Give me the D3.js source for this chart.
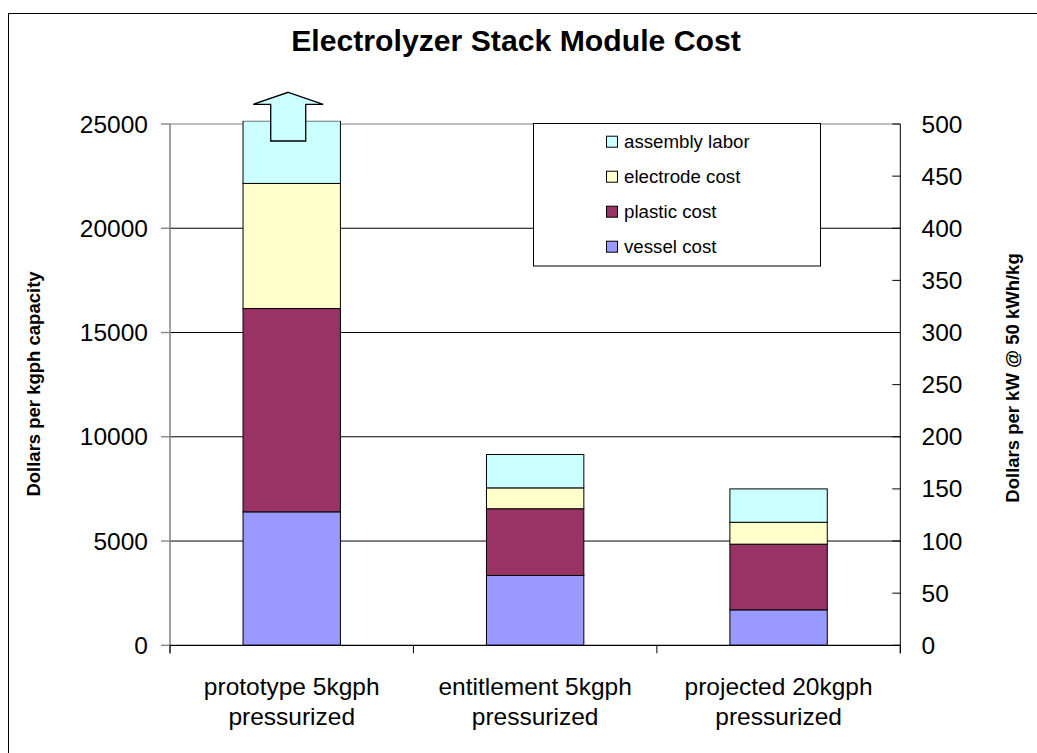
<!DOCTYPE html>
<html>
<head>
<meta charset="utf-8">
<script src="https://cdn.jsdelivr.net/npm/d3@7"></script>
<style>
html,body{margin:0;padding:0;background:#fff;}
svg{display:block;font-family:Arial,"Liberation Sans",sans-serif;}
</style>
</head>
<body>
<svg id="chart" width="1037" height="753"></svg>
<script>
const categories = [["prototype 5kgph","pressurized"],["entitlement 5kgph","pressurized"],["projected 20kgph","pressurized"]];
const seriesNames = ["vessel cost","plastic cost","electrode cost","assembly labor"];
const vesselCost = [6400, 3350, 1700];
const plasticCost = [9750, 3200, 3150];
const electrodeCost = [6000, 1000, 1050];
const assemblyLabor = [3000, 1600, 1600];
const leftTicks = [0,5000,10000,15000,20000,25000];
const rightTicks = [0,50,100,150,200,250,300,350,400,450,500];
const colors = ["#9999FF","#993366","#FFFFCC","#CCFFFF"];

const svg = d3.select("#chart");
const L = 170, R = 900.3, T = 124, B = 645.3;

const x = d3.scaleBand().domain(d3.range(categories.length)).range([L,R]).paddingInner(0.6).paddingOuter(0.3);
const y = d3.scaleLinear().domain([0,25000]).range([B,T]);
const y2 = d3.scaleLinear().domain([0,500]).range([B,T]);

// outer border
svg.append("rect").attr("x",8.5).attr("y",13.5).attr("width",1100).attr("height",800)
  .attr("fill","none").attr("stroke","#000").attr("stroke-width",1);

// title
svg.append("text").attr("x",516).attr("y",51).attr("text-anchor","middle")
  .attr("font-weight","bold").attr("font-size",30.2).text("Electrolyzer Stack Module Cost");

// gridlines
svg.append("g").selectAll("line").data(leftTicks.filter(d=>d>0)).join("line")
  .attr("x1",L).attr("x2",R).attr("y1",d=>y(d)).attr("y2",d=>y(d))
  .attr("stroke",d=>d===25000?"#808080":"#000").attr("stroke-width",1);

// stacked data
const rows = categories.map((c,i)=>({i, "vessel cost":vesselCost[i], "plastic cost":plasticCost[i], "electrode cost":electrodeCost[i], "assembly labor":assemblyLabor[i]}));
const stacked = d3.stack().keys(seriesNames)(rows);

const clipTop = y(25150);
svg.append("clipPath").attr("id","plotclip").append("rect")
  .attr("x",0).attr("y",clipTop).attr("width",1037).attr("height",753);

const gBars = svg.append("g").attr("clip-path","url(#plotclip)");
stacked.forEach((s,k)=>{
  gBars.append("g").selectAll("rect").data(s).join("rect")
    .attr("x",d=>x(d.data.i)).attr("width",x.bandwidth())
    .attr("y",d=>y(d[1])).attr("height",d=>y(d[0])-y(d[1]))
    .attr("fill",colors[k]).attr("stroke","#000").attr("stroke-width",1);
});

// arrow indicating off-scale bar
{
  const cx = x(0) + x.bandwidth()/2 - 3.5;
  const base = y(25000);
  const tipY = base - 31.7, headY = base - 19.7, shaftB = base + 17;
  const hw = 35, sw = 17.5;
  const pts = [[cx,tipY],[cx+hw,headY],[cx+sw,headY],[cx+sw,shaftB],[cx-sw,shaftB],[cx-sw,headY],[cx-hw,headY]];
  svg.append("polygon").attr("points",pts.map(p=>p.join(",")).join(" "))
    .attr("fill","#CCFFFF").attr("stroke","#000").attr("stroke-width",1.3);
}

// left axis
const gl = svg.append("g");
gl.append("line").attr("x1",L).attr("x2",L).attr("y1",T).attr("y2",B+8).attr("stroke","#808080").attr("stroke-width",1.5);
gl.selectAll("line.t").data(leftTicks).join("line").attr("class","t")
  .attr("x1",L-9).attr("x2",L).attr("y1",d=>y(d)).attr("y2",d=>y(d)).attr("stroke","#808080").attr("stroke-width",1.3);
gl.selectAll("text").data(leftTicks).join("text")
  .attr("x",148).attr("y",d=>y(d)).attr("dy","0.35em").attr("text-anchor","end")
  .attr("font-size",24.5).text(d=>d);

// right axis
const gr = svg.append("g");
gr.append("line").attr("x1",R).attr("x2",R).attr("y1",T).attr("y2",B+8).attr("stroke","#000").attr("stroke-width",1);
gr.selectAll("line.t").data(rightTicks).join("line").attr("class","t")
  .attr("x1",R-8).attr("x2",R).attr("y1",d=>y2(d)).attr("y2",d=>y2(d)).attr("stroke","#000").attr("stroke-width",1);
gr.selectAll("text").data(rightTicks).join("text")
  .attr("x",921.5).attr("y",d=>y2(d)).attr("dy","0.35em").attr("text-anchor","start")
  .attr("font-size",24.5).text(d=>d);

// x axis
const gx = svg.append("g");
gx.append("line").attr("x1",L).attr("x2",R).attr("y1",B).attr("y2",B).attr("stroke","#000").attr("stroke-width",1.2);
const bounds = d3.range(categories.length+1).map(i=> i<categories.length ? x(i)-x.step()*x.paddingInner()/2 : R);
bounds[0] = L;
gx.selectAll("line.t").data(bounds).join("line").attr("class","t")
  .attr("x1",d=>d).attr("x2",d=>d).attr("y1",B).attr("y2",B+8).attr("stroke","#000").attr("stroke-width",1);
const gxl = gx.selectAll("text").data(categories).join("text")
  .attr("text-anchor","middle").attr("font-size",24.5);
gxl.each(function(c,i){
  const t = d3.select(this);
  c.forEach((line,j)=>{
    t.append("tspan").attr("x",x(i)+x.bandwidth()/2).attr("y",695+j*30).text(line);
  });
});

// axis titles
svg.append("text").attr("transform","translate(40,384) rotate(-90)")
  .attr("text-anchor","middle").attr("font-weight","bold").attr("font-size",18.5)
  .text("Dollars per kgph capacity");
svg.append("text").attr("transform","translate(1019,378) rotate(-90)")
  .attr("text-anchor","middle").attr("font-weight","bold").attr("font-size",18.5)
  .text("Dollars per kW @ 50 kWh/kg");

// legend
const lg = svg.append("g");
lg.append("rect").attr("x",533.5).attr("y",123.5).attr("width",287).attr("height",142.5)
  .attr("fill","#fff").attr("stroke","#000").attr("stroke-width",1);
const legendOrder = [3,2,1,0];
legendOrder.forEach((k,j)=>{
  const cy = 141.7 + j*35;
  lg.append("rect").attr("x",606.5).attr("y",cy-5.5).attr("width",11).attr("height",11)
    .attr("fill",colors[k]).attr("stroke","#000").attr("stroke-width",1);
  lg.append("text").attr("x",624).attr("y",cy).attr("dy","0.35em").attr("font-size",18.7).text(seriesNames[k]);
});
</script>
</body>
</html>
